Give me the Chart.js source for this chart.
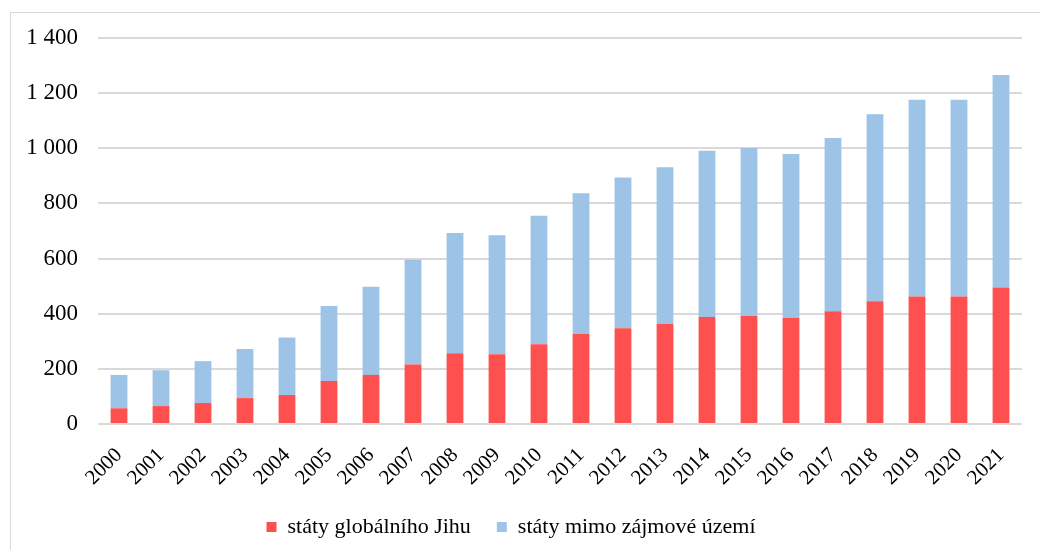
<!DOCTYPE html>
<html>
<head>
<meta charset="utf-8">
<script src="https://cdn.jsdelivr.net/npm/chart.js@4.4.1/dist/chart.umd.min.js"></script>
<style>
  html, body { margin: 0; padding: 0; background: #fff; overflow: hidden; }
  #wrap { position: relative; width: 1040px; height: 550px; }
  #frame { position: absolute; left: 10px; top: 12px; width: 1040px; height: 560px;
           border: 1.5px solid #d9d9d9; box-sizing: border-box; }
  #myChart { position: absolute; left: 0; top: 0; }
</style>
</head>
<body>
<div id="wrap">
  <div id="frame"></div>
  <canvas id="myChart" width="1040" height="550"></canvas>
</div>
<script>
const years = ['2000', '2001', '2002', '2003', '2004', '2005', '2006', '2007', '2008', '2009', '2010',
  '2011', '2012', '2013', '2014', '2015', '2016', '2017', '2018', '2019', '2020', '2021'];

// státy globálního Jihu
const globalSouth = [57, 65, 76, 94, 105, 156, 178, 216, 257, 253, 289,
  327, 347, 364, 388, 392, 385, 409, 445, 462, 462, 495];

// státy mimo zájmové území
const outside = [121, 130, 152, 178, 209, 272, 320, 380, 436, 432, 466,
  510, 547, 567, 603, 609, 594, 628, 678, 714, 714, 771];

const yTicks = [0, 200, 400, 600, 800, 1000, 1200, 1400];

const serif = "'Liberation Serif', 'Times New Roman', serif";

function formatNumber(v) {
  return String(v).replace(/\B(?=(\d{3})+(?!\d))/g, ' ');
}

const ctx = document.getElementById('myChart').getContext('2d');
new Chart(ctx, {
  type: 'bar',
  data: {
    labels: years,
    datasets: [
      {
        label: 'státy globálního Jihu',
        data: globalSouth,
        backgroundColor: '#ff5050',
        barPercentage: 0.8,
        categoryPercentage: 0.5
      },
      {
        label: 'státy mimo zájmové území',
        data: outside,
        backgroundColor: '#9dc3e6',
        barPercentage: 0.8,
        categoryPercentage: 0.5
      }
    ]
  },
  options: {
    responsive: false,
    animation: false,
    layout: { padding: { top: 38, right: 18, left: 0, bottom: 2 } },
    plugins: {
      tooltip: { enabled: false },
      legend: {
        position: 'bottom',
        labels: {
          color: '#000',
          font: { family: serif, size: 22 },
          boxWidth: 10,
          boxHeight: 10,
          padding: 26
        }
      }
    },
    scales: {
      x: {
        stacked: true,
        grid: { display: false },
        border: { display: false },
        afterFit: (scale) => { scale.height = 66; },
        ticks: {
          color: '#000',
          font: { family: serif, size: 21 },
          maxRotation: 45,
          minRotation: 45,
          padding: 11
        }
      },
      y: {
        stacked: true,
        min: 0,
        max: 1400,
        afterBuildTicks: (scale) => {
          scale.ticks = yTicks.map(v => ({ value: v }));
        },
        afterFit: (scale) => { scale.width = 98; },
        grid: { color: '#d9d9d9', lineWidth: 2, drawTicks: false },
        border: { display: false },
        ticks: {
          color: '#000',
          font: { family: serif, size: 23 },
          padding: 20,
          callback: (v) => formatNumber(v)
        }
      }
    }
  }
});
</script>
</body>
</html>
